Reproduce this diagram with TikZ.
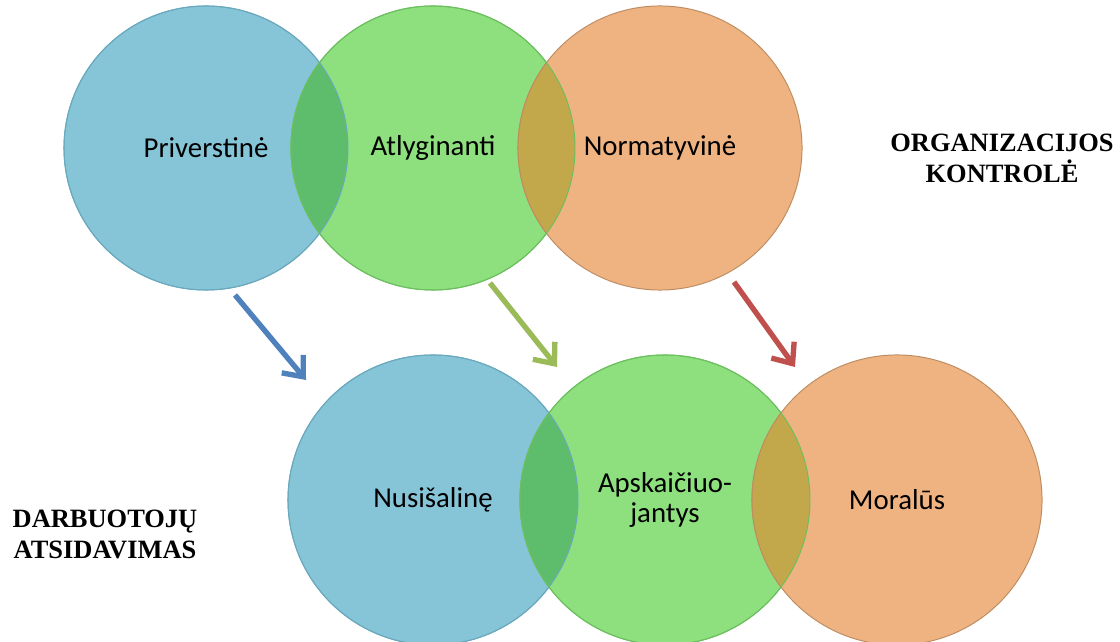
\documentclass[tikz,border=0pt]{standalone}
\usepackage{fontspec}
\usepackage{tikz}
\usetikzlibrary{arrows.meta}
\newfontfamily\calibrif{Carlito}
\newfontfamily\timesf{Liberation Serif}
\definecolor{cblue}{HTML}{86C5D8}
\definecolor{cblueD}{HTML}{6AA9BD}
\definecolor{cgreen}{HTML}{8EE07E}
\definecolor{cgreenD}{HTML}{6CBF5E}
\definecolor{corange}{HTML}{EFB382}
\definecolor{corangeD}{HTML}{BF8D62}
\definecolor{lensBG}{HTML}{5DBD6D}
\definecolor{lensGO}{HTML}{C3A84B}
\definecolor{arrB}{HTML}{4F81BD}
\definecolor{arrG}{HTML}{9BBB59}
\definecolor{arrR}{HTML}{C0504D}

\begin{document}
\begin{tikzpicture}[x=0.025cm,y=-0.025cm]
  \tikzstyle{ring} = [circle,inner sep=0pt,align=center,line width=0.7pt,
    font=\calibrif\fontsize{20.5}{21.3}\selectfont]
  \tikzstyle{big} = [minimum size=7.1cm]
  \tikzstyle{bigb} = [minimum size=7.25cm]
  \tikzstyle{pil} = [line width=3.8pt,-{Straight Barb[length=12pt,width=20pt]}]
  \tikzstyle{lbl} = [inner sep=0pt,align=center,
    font=\timesf\bfseries\fontsize{18.8}{22}\selectfont]
  \useasboundingbox (0,0) rectangle (1120,642);
  %%
  %% organizacijos kontrole
  \node[ring,big,fill=cblue,draw=cblueD] (priv) at (206,148) {Priverstinė};
  \node[ring,big,fill=cgreen,draw=cgreenD] (atlyg) at (433,148) {Atlyginanti};
  \node[ring,big,fill=corange,draw=corangeD] (norm) at (660,148) {Normatyvinė};
  \begin{scope}
    \clip (priv.center) circle (142);
    \fill[lensBG,draw=cgreenD,line width=0.7pt] (atlyg.center) circle (142);
  \end{scope}
  \begin{scope}
    \clip (atlyg.center) circle (142);
    \fill[lensGO,draw=corangeD,line width=0.7pt] (norm.center) circle (142);
  \end{scope}
  \draw[cblueD,line width=0.7pt] (priv.center) circle (142);
  \draw[cgreenD,line width=0.7pt] (atlyg.center) circle (142);
  %%
  %% darbuotoju atsidavimas
  \node[ring,bigb,fill=cblue,draw=cblueD] (nusis) at (433,500) {Nusišalinę};
  \node[ring,bigb,fill=cgreen,draw=cgreenD] (apsk) at (665,500) {Apskaičiuo-\\jantys};
  \node[ring,bigb,fill=corange,draw=corangeD] (moral) at (897,500) {Moralūs};
  \begin{scope}
    \clip (nusis.center) circle (145);
    \fill[lensBG,draw=cgreenD,line width=0.7pt] (apsk.center) circle (145);
  \end{scope}
  \begin{scope}
    \clip (apsk.center) circle (145);
    \fill[lensGO,draw=corangeD,line width=0.7pt] (moral.center) circle (145);
  \end{scope}
  \draw[cblueD,line width=0.7pt] (nusis.center) circle (145);
  \draw[cgreenD,line width=0.7pt] (apsk.center) circle (145);
  %%
  \node[lbl] (orgk) at (1002,158) {ORGANIZACIJOS\\KONTROLĖ};
  \node[lbl] (darb) at (105,534) {DARBUOTOJŲ\\ATSIDAVIMAS};
  %%
  \coordinate (p1) at (235,295); \coordinate (q1) at (306,380);
  \coordinate (p2) at (490,283); \coordinate (q2) at (557,367);
  \coordinate (p3) at (734,282); \coordinate (q3) at (795,367);
  \draw[pil,arrB] (p1) -- (q1);
  \draw[pil,arrG] (p2) -- (q2);
  \draw[pil,arrR] (p3) -- (q3);
\end{tikzpicture}
\end{document}
